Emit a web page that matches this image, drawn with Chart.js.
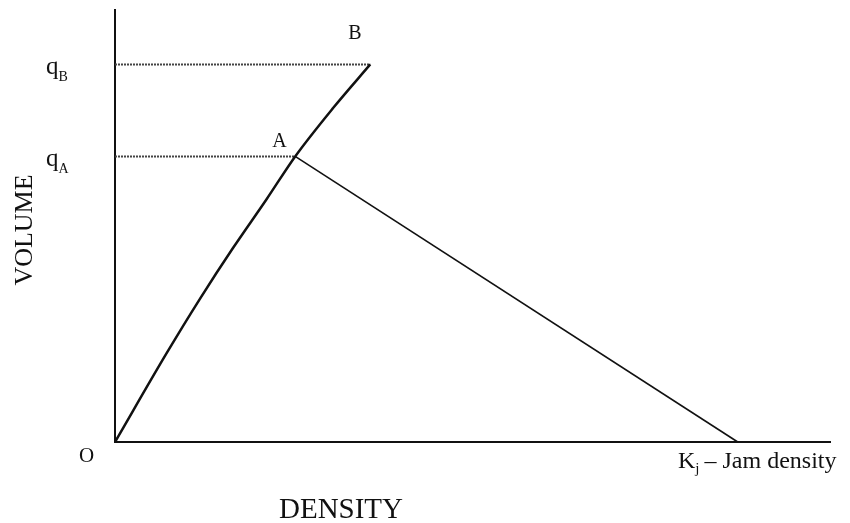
<!DOCTYPE html>
<html>
<head>
<meta charset="utf-8">
<script src="https://cdn.jsdelivr.net/npm/chart.js@4/dist/chart.umd.min.js"></script>
<style>
  html, body { margin: 0; padding: 0; background: #fff; }
  canvas { display: block; }
</style>
</head>
<body>
<canvas id="chart" width="850" height="523"></canvas>
<script>
// flow / density curve (arbitrary units, 0-100)
const curveDensity = [0, 7.2, 11.9, 16.5, 21.2, 25.2, 30.5, 35.7];
const curveVolume = [0, 20.5, 33.2, 44.9, 56.2, 66.1, 77.3, 87.4];
const jamDensity = 87.1;
const qA = 66.1;
const qB = 87.4;
const pointNames = ["O", "A", "B"];
const axisTitles = ["DENSITY", "VOLUME"];

const idxA = 5;
const idxB = curveDensity.length - 1;
const curvePoints = curveDensity.map((d, i) => ({ x: d, y: curveVolume[i] }));

const serif = "'Liberation Serif', 'DejaVu Serif', serif";

function subText(ctx, main, sub, x, y, size, subSize, drop) {
  ctx.font = size + "px " + serif;
  ctx.textAlign = "left";
  ctx.textBaseline = "alphabetic";
  ctx.fillText(main, x, y);
  const w = ctx.measureText(main).width;
  ctx.font = subSize + "px " + serif;
  ctx.fillText(sub, x + w, y + drop);
  return x + w + ctx.measureText(sub).width;
}

const labelsPlugin = {
  id: "diagramLabels",
  afterDraw(chart) {
    const { ctx, scales: { x, y } } = chart;
    ctx.save();
    ctx.fillStyle = "#111";

    // q_B and q_A on the volume axis
    subText(ctx, "q", "B", 46, y.getPixelForValue(qB) + 10, 25, 14, 7);
    subText(ctx, "q", "A", 46, y.getPixelForValue(qA) + 10, 25, 14, 7);

    // point names
    ctx.font = "21px " + serif;
    ctx.textAlign = "left";
    ctx.fillText(pointNames[0], x.getPixelForValue(0) - 36, y.getPixelForValue(0) + 20);
    ctx.font = "20px " + serif;
    ctx.fillText(pointNames[1], x.getPixelForValue(curveDensity[idxA]) - 23, y.getPixelForValue(curveVolume[idxA]) - 9);
    ctx.fillText(pointNames[2], x.getPixelForValue(curveDensity[idxB]) - 22, y.getPixelForValue(curveVolume[idxB]) - 25);

    // jam density label
    const kx = subText(ctx, "K", "j", 678, 468, 24, 15, 5);
    ctx.font = "24px " + serif;
    ctx.fillText(" \u2013 Jam density", kx - 1, 468);

    // axis titles
    ctx.font = "29px " + serif;
    ctx.textAlign = "center";
    ctx.fillText(axisTitles[0], 341, 518);

    ctx.translate(32, 230);
    ctx.rotate(-Math.PI / 2);
    ctx.font = "26px " + serif;
    ctx.fillText(axisTitles[1], 0, 0);
    ctx.restore();
  }
};

const ctx = document.getElementById("chart").getContext("2d");

new Chart(ctx, {
  type: "scatter",
  data: {
    datasets: [
      {
        label: "Flow",
        data: curvePoints,
        showLine: true,
        borderColor: "#111",
        borderWidth: 2.5,
        cubicInterpolationMode: "monotone",
        pointRadius: 0,
      },
      {
        label: "Congested",
        data: [curvePoints[idxA], { x: jamDensity, y: 0 }],
        showLine: true,
        borderColor: "#111",
        borderWidth: 1.6,
        pointRadius: 0,
      },
      {
        label: "qB",
        data: [{ x: 0, y: qB }, { x: curveDensity[idxB], y: qB }],
        showLine: true,
        borderColor: "#444",
        borderWidth: 2,
        borderDash: [2, 1],
        pointRadius: 0,
      },
      {
        label: "qA",
        data: [{ x: 0, y: qA }, { x: curveDensity[idxA], y: qA }],
        showLine: true,
        borderColor: "#444",
        borderWidth: 2,
        borderDash: [2, 1],
        pointRadius: 0,
      },
    ],
  },
  options: {
    responsive: false,
    animation: false,
    clip: false,
    layout: { padding: { left: 115, top: 10, right: 20, bottom: 81 } },
    scales: {
      x: {
        min: 0,
        max: 100,
        grid: { display: false, drawTicks: false },
        ticks: { display: false },
        border: { display: true, color: "#111", width: 2 },
      },
      y: {
        min: 0,
        max: 100,
        grid: { display: false, drawTicks: false },
        ticks: { display: false },
        border: { display: true, color: "#111", width: 2 },
      },
    },
    plugins: {
      legend: { display: false },
      tooltip: { enabled: false },
    },
  },
  plugins: [labelsPlugin],
});
</script>
</body>
</html>
